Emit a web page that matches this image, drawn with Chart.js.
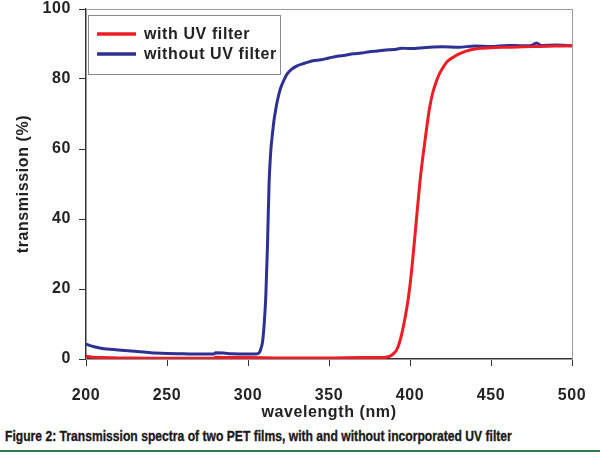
<!DOCTYPE html>
<html>
<head>
<meta charset="utf-8">
<script src="https://cdn.jsdelivr.net/npm/chart.js@4.4.0/dist/chart.umd.min.js"></script>
<style>
  body { margin: 0; background: #fff; width: 600px; height: 455px; overflow: hidden; position: relative; }
  #wrap { position: absolute; left: 0; top: 0; width: 600px; height: 425px; }
  #caption { position: absolute; left: 5px; top: 427px; font-family: "Liberation Sans", Arial, sans-serif; font-weight: bold; font-size: 15px; color: #1a1a1a; -webkit-text-stroke: 0.35px #1a1a1a; white-space: nowrap; transform-origin: 0 0; }
  #rule { position: absolute; left: 0; top: 450px; width: 600px; height: 2px; background: #2e7d4f; }
</style>
</head>
<body>
<div id="wrap"><canvas id="chart-cont"></canvas></div>
<div id="caption">Figure 2: Transmission spectra of two PET films, with and without incorporated UV filter</div>
<div id="rule"></div>
<script>
// wavelength (nm) / transmission (%)
var seriesNames = ["with UV filter", "without UV filter"];

var withX = [200, 203, 210, 220, 230, 250, 270, 279, 280, 290, 300, 320, 340, 350, 370, 380, 385, 388, 390, 392, 394, 396, 398, 400, 402, 404, 406, 408, 410, 412, 414, 416, 418, 420, 423, 427, 431, 437, 445, 460, 470, 480, 490, 500];
var withY = [0.8, 0.6, 0.4, 0.3, 0.3, 0.2, 0.2, 0.2, 0.5, 0.4, 0.4, 0.3, 0.3, 0.3, 0.4, 0.4, 0.5, 0.9, 1.6, 2.8, 5.5, 9.5, 14.5, 21, 30, 40, 50, 58, 65, 71.5, 76, 79, 81.3, 83, 85, 86.3, 87.3, 88.3, 88.8, 89.1, 89.2, 89.3, 89.4, 89.5];

var withoutX = [200, 205, 210, 220, 230, 240, 250, 260, 270, 279, 280, 285, 290, 300, 305, 307, 308, 309, 310, 311, 312, 313, 314, 315, 316, 317, 318, 319, 320, 322, 324, 327, 330, 335, 340, 345, 350, 355, 360, 365, 370, 375, 380, 385, 390, 395, 400, 410, 420, 430, 440, 450, 460, 470, 475, 478, 481, 490, 500];
var withoutY = [4.2, 3.5, 3.0, 2.6, 2.2, 1.8, 1.6, 1.5, 1.4, 1.4, 1.8, 1.7, 1.5, 1.4, 1.4, 1.8, 3, 5, 10, 18, 32, 50, 59, 64, 68, 71, 73.5, 75.5, 77.2, 79.5, 81.3, 82.8, 83.7, 84.5, 85.2, 85.5, 86, 86.5, 86.8, 87.2, 87.4, 87.8, 88, 88.3, 88.4, 88.8, 88.7, 89, 89.2, 89.1, 89.4, 89.3, 89.6, 89.5, 89.6, 90.3, 89.6, 89.7, 89.5];

var yTicks = [0, 20, 40, 60, 80, 100];
var xTicks = [200, 250, 300, 350, 400, 450, 500];

var seriesColors = ['#ee1d25', '#2e3192'];

function pairs(xs, ys) {
    return xs.map(function (x, i) { return { x: x, y: ys[i] }; });
}

// canvas letter spacing gets reset on resize, so put it back before layout and draw
var spacing = {
    id: 'spacing',
    beforeUpdate: function (chart) { chart.ctx.letterSpacing = '0.6px'; },
    beforeDraw: function (chart) { chart.ctx.letterSpacing = '0.6px'; }
};

// thin grey frame around the plot (top and right edges)
var frame = {
    id: 'frame',
    beforeDatasetsDraw: function (chart) {
        var a = chart.chartArea, ctx = chart.ctx;
        ctx.save();
        ctx.strokeStyle = '#9a9a9a';
        ctx.lineWidth = 1;
        ctx.strokeRect(a.left + 0.5, a.top + 0.5, a.right - a.left, a.bottom - a.top);
        ctx.restore();
    }
};

// boxed legend inside the top left corner
var boxLegend = {
    id: 'boxLegend',
    afterDraw: function (chart) {
        var ctx = chart.ctx;
        ctx.save();
        ctx.fillStyle = '#fff';
        ctx.fillRect(88, 15, 192, 59);
        ctx.strokeStyle = '#8a8a8a';
        ctx.lineWidth = 1;
        ctx.strokeRect(88.5, 15.5, 192, 59);
        ctx.font = 'bold 16px "Liberation Sans", Arial, sans-serif';
        ctx.letterSpacing = '0.6px';
        ctx.textBaseline = 'middle';
        chart.data.datasets.forEach(function (ds, i) {
            var y = 34 + i * 20;
            ctx.strokeStyle = ds.borderColor;
            ctx.lineWidth = 3.5;
            ctx.beginPath();
            ctx.moveTo(97, y);
            ctx.lineTo(136, y);
            ctx.stroke();
            ctx.fillStyle = '#222';
            ctx.fillText(ds.label, 144, y + 1);
        });
        ctx.restore();
    }
};

var tickFont = { family: '"Liberation Sans", Arial, sans-serif', size: 16, weight: 'bold' };

var config = {
    type: 'line',
    data: {
        datasets: [{
            label: seriesNames[0],
            data: pairs(withX, withY),
            borderColor: seriesColors[0],
            borderWidth: 3,
            pointRadius: 0,
            cubicInterpolationMode: 'monotone'
        }, {
            label: seriesNames[1],
            data: pairs(withoutX, withoutY),
            borderColor: seriesColors[1],
            borderWidth: 3,
            pointRadius: 0,
            cubicInterpolationMode: 'monotone'
        }]
    },
    plugins: [spacing, frame, boxLegend],
    options: {
        responsive: true,
        maintainAspectRatio: false,
        animation: false,
        events: [],
        layout: { padding: { top: 9, right: 28, left: 0, bottom: 0 } },
        plugins: {
            legend: { display: false },
            tooltip: { enabled: false }
        },
        scales: {
            x: {
                type: 'linear',
                min: 200,
                max: 500,
                afterBuildTicks: function (axis) { axis.ticks = xTicks.map(function (v) { return { value: v }; }); },
                afterFit: function (axis) {
                    axis.height = 66;
                    axis.paddingLeft = 0;
                    axis.paddingRight = 0;
                },
                grid: { drawOnChartArea: false, tickLength: 7, color: '#333', tickWidth: 1 },
                border: { color: '#333', width: 1.2 },
                ticks: { font: tickFont, color: '#222', padding: 20, maxRotation: 0 },
                title: {
                    display: true,
                    text: 'wavelength (nm)',
                    font: tickFont,
                    color: '#222',
                    padding: { top: 3, bottom: 3 }
                }
            },
            y: {
                min: 0,
                max: 100,
                afterBuildTicks: function (axis) { axis.ticks = yTicks.map(function (v) { return { value: v }; }); },
                afterFit: function (axis) {
                    axis.width = 86;
                    axis.paddingTop = 0;
                    axis.paddingBottom = 0;
                },
                grid: { drawOnChartArea: false, tickLength: 7, color: '#333', tickWidth: 1 },
                border: { color: '#333', width: 1.2 },
                ticks: { font: tickFont, color: '#222', padding: 8 },
                title: {
                    display: true,
                    text: 'transmission (%)',
                    font: tickFont,
                    color: '#222',
                    padding: { top: 14, bottom: 14 }
                }
            }
        }
    }
};

var canvasElement = document.getElementById('chart-cont').getContext('2d');
var chart = new Chart(canvasElement, config);

// squeeze the caption to the width it has in the figure
var cap = document.getElementById('caption');
cap.style.transform = 'scaleX(' + (507 / cap.offsetWidth) + ')';
</script>
</body>
</html>
